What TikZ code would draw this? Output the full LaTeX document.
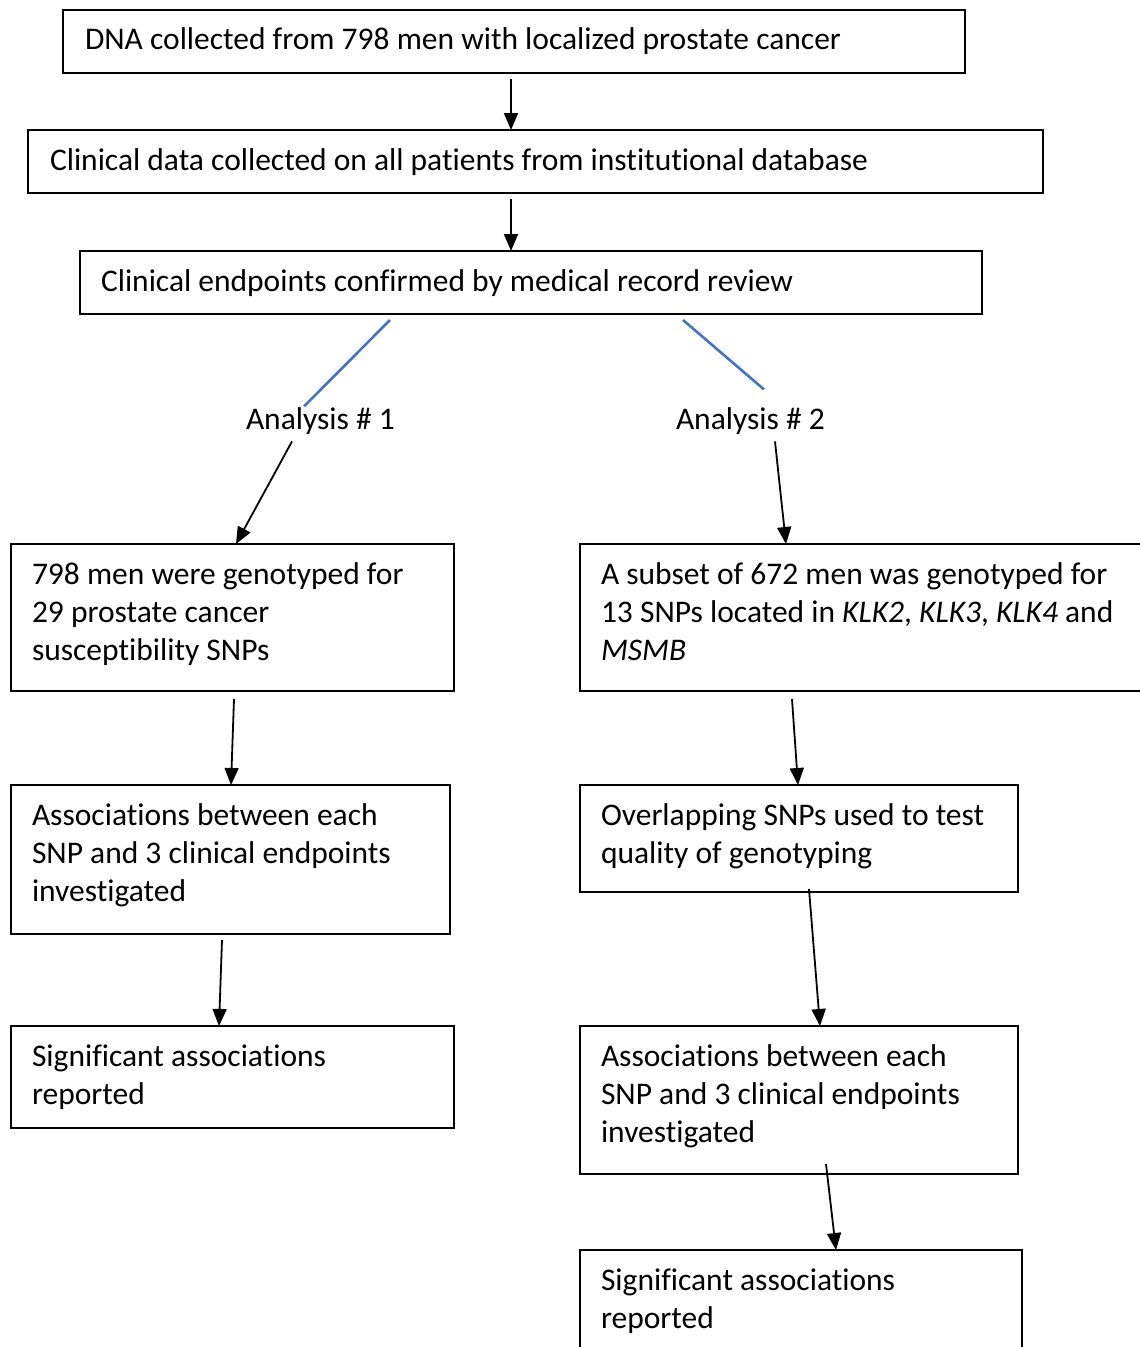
\documentclass[tikz,border=0pt]{standalone}
\usepackage{fontspec}
\setmainfont{Carlito}[Ligatures=NoCommon]
\usetikzlibrary{arrows.meta,calc}
\definecolor{linkblue}{RGB}{68,114,196}
\begin{document}
\begin{tikzpicture}[x=1pt,y=-1pt,
  box/.style={draw, line width=2.2pt, inner sep=0, outer sep=0, anchor=north west, rectangle},
  txt/.style={inner sep=0, outer sep=0, anchor=north west, align=left, font=\fontsize{31.5}{38}\selectfont},
  arr/.style={line width=1.8pt, -{Triangle[length=17pt,width=14pt]}},
  blueline/.style={draw=linkblue, line width=2.6pt}]
\useasboundingbox[fill=white] (0,0) rectangle (1140,1347);

% boxes
\node[box, minimum width=902pt, minimum height=63pt] (b1) at (63,10) {};
\node[box, minimum width=1015pt, minimum height=63pt] (b2) at (28,130) {};
\node[box, minimum width=902pt, minimum height=63pt] (b3) at (80,251) {};
\node[box, minimum width=443pt, minimum height=147pt] (b4L) at (11,544) {};
\node[box, minimum width=575pt, minimum height=147pt] (b4R) at (580,544) {};
\node[box, minimum width=439pt, minimum height=149pt] (b5L) at (11,785) {};
\node[box, minimum width=438pt, minimum height=107pt] (b5R) at (580,785) {};
\node[box, minimum width=443pt, minimum height=102pt] (b6L) at (11,1026) {};
\node[box, minimum width=438pt, minimum height=148pt] (b6R) at (580,1026) {};
\node[box, minimum width=442pt, minimum height=120pt] (b7R) at (580,1250) {};

% texts
\node[txt] (t1) at (85,22.4) {\strut DNA collected from 798 men with localized prostate cancer};
\node[txt] (t2) at (50,143.4) {\strut Clinical data collected on all patients from institutional database};
\node[txt] (t3) at (101,264.4) {\strut Clinical endpoints confirmed by medical record review};
\node[txt] (a1) at (246,402.4) {\strut Analysis \# 1};
\node[txt] (a2) at (676,402.4) {\strut Analysis \# 2};
\node[txt] (t4L) at (32,557.4) {\strut 798 men were genotyped for\\29 prostate cancer\\susceptibility SNPs};
\node[txt] (t4R) at (601,557.4) {\strut A subset of 672 men was genotyped for\\13 SNPs located in \textit{KLK2}, \textit{KLK3}, \textit{KLK4} and\\\textit{MSMB}};
\node[txt] (t5L) at (32,798.4) {\strut Associations between each\\SNP and 3 clinical endpoints\\investigated};
\node[txt] (t5R) at (601,798.4) {\strut Overlapping SNPs used to test\\quality of genotyping};
\node[txt] (t6L) at (32,1039.4) {\strut Significant associations\\reported};
\node[txt] (t6R) at (601,1039.4) {\strut Associations between each\\SNP and 3 clinical endpoints\\investigated};
\node[txt] (t7R) at (601,1263.4) {\strut Significant associations\\reported};

% connectors
\draw[arr] ($(b1.south west)+(448,6)$) -- ($(b2.north west)+(483,0)$);
\draw[arr] ($(b2.south west)+(483,6)$) -- ($(b3.north west)+(431,0)$);
\draw[blueline] ($(b3.south west)+(310,6)$) -- ($(a1.north west)+(58,4)$);
\draw[blueline] ($(b3.south west)+(603,6)$) -- ($(a2.north west)+(88,-13)$);
\draw[arr] ($(a1.south west)+(46,1)$) -- ($(b4L.north west)+(225,0)$);
\draw[arr] ($(a2.south west)+(99,1)$) -- ($(b4R.north west)+(206,0)$);
\draw[arr] ($(b4L.south west)+(223,8)$) -- ($(b5L.north west)+(220,0)$);
\draw[arr] ($(b4R.south west)+(212,8)$) -- ($(b5R.north west)+(218,0)$);
\draw[arr] ($(b5L.south west)+(211,6)$) -- ($(b6L.north west)+(208,0)$);
\draw[arr] ($(b5R.south west)+(229,-3)$) -- ($(b6R.north west)+(240,0)$);
\draw[arr] ($(b6R.south west)+(246,-10)$) -- ($(b7R.north west)+(256,0)$);
\end{tikzpicture}
\end{document}
